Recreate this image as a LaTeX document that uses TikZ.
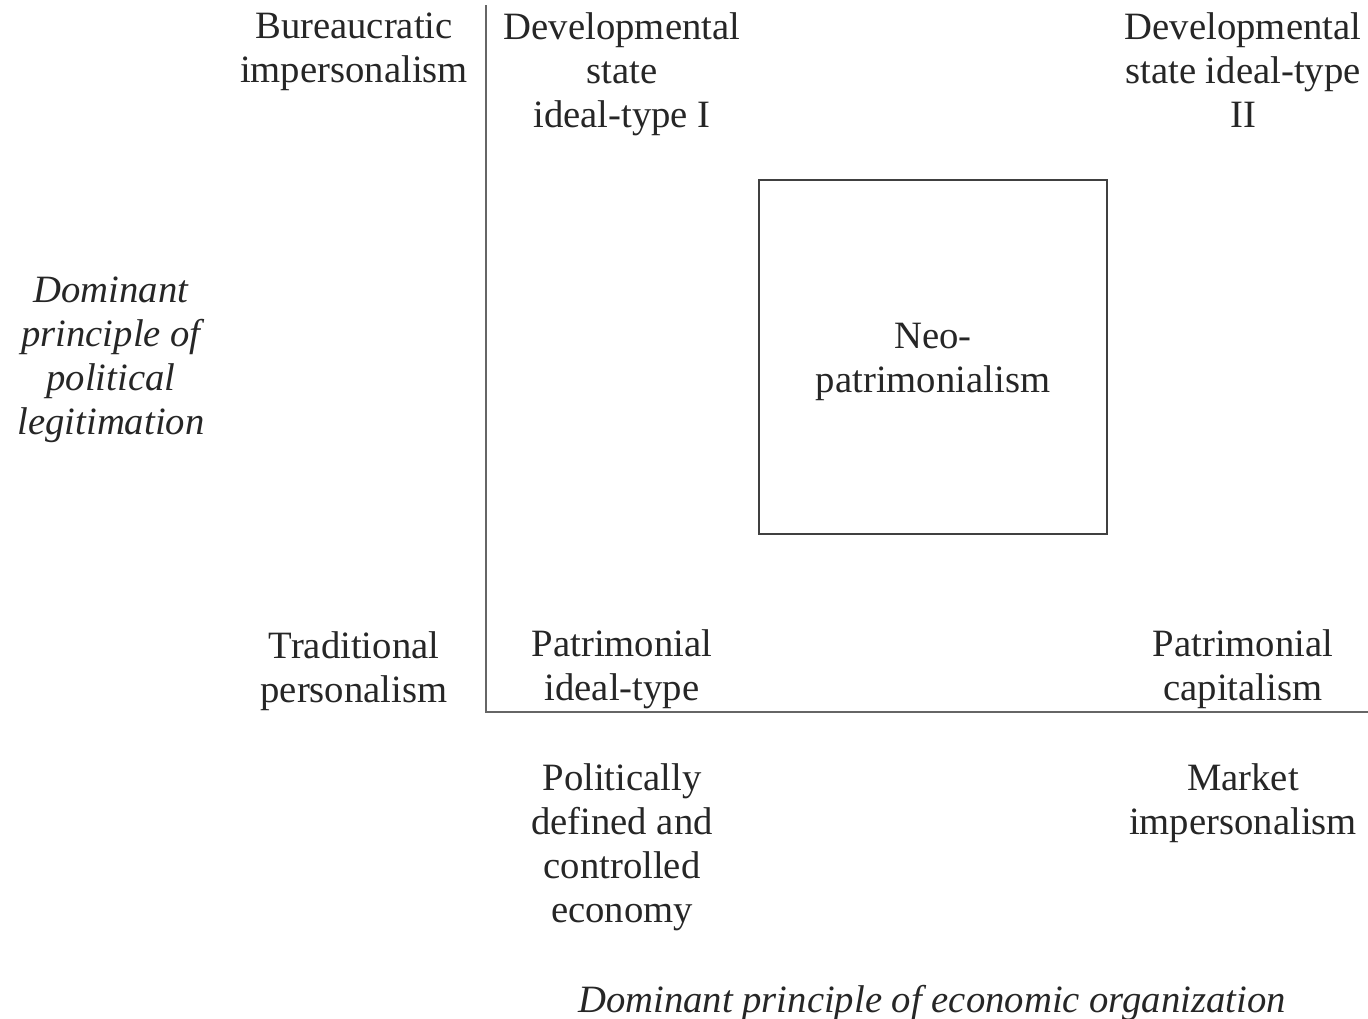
\documentclass[tikz,border=0pt]{standalone}
\usepackage{fontspec}
\setmainfont{Liberation Serif}

\begin{document}
\begin{tikzpicture}[x=0.01cm, y=-0.01cm,
    lbl/.style={align=center, inner sep=0pt, font=\fontsize{11}{12.5}\selectfont, text=black!85},
    axislbl/.style={lbl, font=\fontsize{11}{12.5}\selectfont\itshape},
    axis/.style={draw=black!60, line width=0.5pt},
    cell/.style={draw=black!75, line width=0.5pt, minimum width=3.48cm, minimum height=3.54cm, inner sep=0pt}]
    \useasboundingbox (0,0) rectangle (1368,1018);

    % Axes
    \coordinate (origin) at (486,712);
    \coordinate (ytop) at (486,5);
    \coordinate (xend) at (1368,712);
    \draw[axis] (ytop) -- (origin) -- (xend);

    % Top row
    \node[lbl] (bureau) at (354,52) {Bureaucratic\\impersonalism};
    \node[lbl] (dev-1) at (622,74) {Developmental\\state\\ideal-type I};
    \node[lbl] (dev-2) at (1243,70) {Developmental\\state ideal-type\\II};

    % Middle
    \node[cell] (neo) at (933,357) {};
    \node[lbl] (neo-text) at (neo.center) [yshift=-0.05cm] {Neo-\\patrimonialism};
    \node[axislbl] (ylabel) at (111,360) {Dominant\\principle of\\political\\legitimation};

    % Bottom row
    \node[lbl] (trad) at (354,671) {Traditional\\personalism};
    \node[lbl] (patri-1) at (622,669) {Patrimonial\\ideal-type};
    \node[lbl] (patri-2) at (1243,669) {Patrimonial\\capitalism};

    % Below the axis
    \node[lbl] (political) at (622,847) {Politically\\defined and\\controlled\\economy};
    \node[lbl] (market) at (1243,803) {Market\\impersonalism};
    \node[axislbl] (xlabel) at (932,1003) {Dominant principle of economic organization};

\end{tikzpicture}
\end{document}
